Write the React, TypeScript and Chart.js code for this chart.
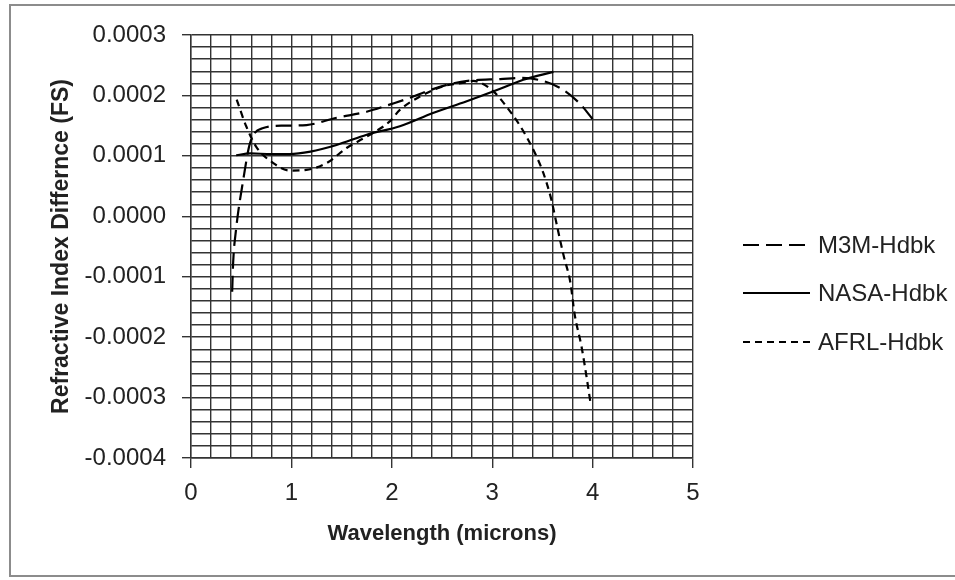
import React, { useEffect, useRef } from "react";
import { Chart, registerables } from "chart.js";

Chart.register(...registerables);

// ---- data ----
const m3mX = [0.41, 0.42, 0.448, 0.52, 0.588, 0.72, 0.92, 1.15, 1.45, 1.75, 2.0, 2.18, 2.35, 2.61, 2.81, 3.08, 3.28, 3.48, 3.68, 3.87, 4.0];
const m3mY = [-0.000125, -0.000076, -0.000023, 0.00006, 0.000121, 0.000146, 0.00015, 0.000151, 0.000163, 0.000173, 0.000186, 0.000196, 0.000207, 0.00022, 0.000225, 0.000227, 0.000229, 0.000225, 0.000212, 0.000187, 0.000161];

const nasaX = [0.45, 0.59, 0.8, 0.98, 1.19, 1.45, 1.75, 2.08, 2.41, 2.74, 3.08, 3.31, 3.61];
const nasaY = [0.000101, 0.000104, 0.000103, 0.000103, 0.000107, 0.000118, 0.000135, 0.000149, 0.000171, 0.00019, 0.000211, 0.000226, 0.000239];

const afrlX = [0.455, 0.55, 0.65, 0.82, 0.98, 1.15, 1.35, 1.55, 1.75, 1.98, 2.08, 2.28, 2.51, 2.75, 2.81, 3.01, 3.14, 3.28, 3.41, 3.51, 3.59, 3.64, 3.71, 3.78, 3.82, 3.89, 3.94, 3.98];
const afrlY = [0.000193, 0.000149, 0.000115, 0.000088, 0.0000757, 0.0000768, 0.000088, 0.000113, 0.000132, 0.000157, 0.000176, 0.000198, 0.000215, 0.000222, 0.000224, 0.000207, 0.000182, 0.000149, 0.00011, 0.0000713, 0.000027, -0.0000116, -0.0000642, -0.000111, -0.000161, -0.000216, -0.000266, -0.00031];

const seriesLabels = ["M3M-Hdbk", "NASA-Hdbk", "AFRL-Hdbk"];

// axis settings
const xMin = 0;
const xMax = 5;
const xMinorStep = 0.2;
const xMajorStep = 1;
const yMin = -0.0004;
const yMax = 0.0003;
const yMinorStep = 0.00002;
const yMajorStep = 0.0001;

const xTitle = "Wavelength (microns)";
const yTitle = "Refractive Index Differnce (FS)";

const GRID = "#333333";
const TEXT = "#222222";

function pts(xs: number[], ys: number[]) {
  return xs.map((x, i) => ({ x, y: ys[i] }));
}

function buildTicks(min: number, max: number, step: number) {
  const n = Math.round((max - min) / step);
  const out: { value: number }[] = [];
  for (let i = 0; i <= n; i++) {
    out.push({ value: parseFloat((min + i * step).toFixed(8)) });
  }
  return out;
}

function isMajor(v: number, major: number) {
  const r = v / major;
  return Math.abs(r - Math.round(r)) < 1e-6;
}

const legendPlugin = {
  id: "customLegend",
  afterDraw(chart: any) {
    const ctx = chart.ctx;
    const ys = [245, 293, 342];
    ctx.save();
    chart.data.datasets.forEach((ds: any, i: number) => {
      const y = ys[i];
      ctx.strokeStyle = "#000";
      ctx.lineWidth = 2.2;
      ctx.setLineDash(ds.borderDash || []);
      ctx.beginPath();
      ctx.moveTo(743, y);
      ctx.lineTo(810, y);
      ctx.stroke();
      ctx.setLineDash([]);
      ctx.fillStyle = TEXT;
      ctx.font = "24px 'Liberation Sans'";
      ctx.textBaseline = "middle";
      ctx.textAlign = "left";
      ctx.fillText(ds.label, 818, y + 1);
    });
    ctx.restore();
  },
};

export default function App() {
  const ref = useRef<HTMLCanvasElement | null>(null);

  useEffect(() => {
    if (!ref.current) return;
    const chart = new Chart(ref.current, {
      type: "line",
      data: {
        datasets: [
          {
            label: seriesLabels[0],
            data: pts(m3mX, m3mY),
            borderColor: "#000",
            borderWidth: 2.2,
            borderDash: [16, 7],
            pointRadius: 0,
            cubicInterpolationMode: "monotone",
            fill: false,
          },
          {
            label: seriesLabels[1],
            data: pts(nasaX, nasaY),
            borderColor: "#000",
            borderWidth: 2.2,
            pointRadius: 0,
            cubicInterpolationMode: "monotone",
            fill: false,
          },
          {
            label: seriesLabels[2],
            data: pts(afrlX, afrlY),
            borderColor: "#000",
            borderWidth: 2.2,
            borderDash: [7, 5],
            pointRadius: 0,
            cubicInterpolationMode: "monotone",
            fill: false,
          },
        ],
      },
      options: {
        responsive: false,
        animation: false,
        events: [],
        layout: { padding: { left: 0, top: 35, right: 262, bottom: 0 } },
        plugins: {
          legend: { display: false },
          tooltip: { enabled: false },
        },
        scales: {
          x: {
            type: "linear",
            min: xMin,
            max: xMax,
            afterBuildTicks: (scale: any) => {
              scale.ticks = buildTicks(xMin, xMax, xMinorStep);
            },
            afterFit: (scale: any) => {
              scale.height = 122;
            },
            grid: {
              color: GRID,
              lineWidth: 1.4,
              tickLength: 10,
              tickColor: (ctx: any) =>
                ctx.tick && isMajor(ctx.tick.value, xMajorStep) ? GRID : "rgba(0,0,0,0)",
            },
            border: { color: GRID, width: 1.4 },
            ticks: {
              autoSkip: false,
              maxRotation: 0,
              padding: 11,
              color: TEXT,
              font: { family: "'Liberation Sans'", size: 24 },
              callback: (v: any) => (isMajor(Number(v), xMajorStep) ? String(Math.round(Number(v))) : ""),
            },
            title: {
              display: true,
              text: xTitle,
              color: TEXT,
              font: { family: "'Liberation Sans'", size: 22, weight: "bold" },
              padding: { top: 0, bottom: 33 },
            },
          },
          y: {
            type: "linear",
            min: yMin,
            max: yMax,
            afterBuildTicks: (scale: any) => {
              scale.ticks = buildTicks(yMin, yMax, yMinorStep);
            },
            afterFit: (scale: any) => {
              scale.width = 191;
            },
            grid: {
              color: GRID,
              lineWidth: 1.4,
              tickLength: 9,
              tickColor: (ctx: any) =>
                ctx.tick && isMajor(ctx.tick.value, yMajorStep) ? GRID : "rgba(0,0,0,0)",
            },
            border: { color: GRID, width: 1.4 },
            ticks: {
              autoSkip: false,
              padding: 16,
              color: TEXT,
              font: { family: "'Liberation Sans'", size: 24 },
              callback: (v: any) => {
                const n = Number(v);
                if (!isMajor(n, yMajorStep)) return "";
                if (Math.abs(n) < 1e-12) return "0.0000";
                return n.toFixed(4);
              },
            },
            title: {
              display: true,
              text: yTitle,
              color: TEXT,
              font: { family: "'Liberation Sans'", size: 23, weight: "bold" },
              padding: { top: 48, bottom: 0 },
            },
          },
        },
      },
      plugins: [legendPlugin],
    } as any);
    return () => chart.destroy();
  }, []);

  return (
    <div style={{ position: "fixed", left: 0, top: 0, width: 955, height: 580, overflow: "hidden", background: "#fff" }}>
      <div
        style={{
          position: "absolute",
          left: 9,
          top: 4,
          width: 970,
          height: 573,
          border: "2px solid #8c8c8c",
          boxSizing: "border-box",
        }}
      />
      <canvas
        ref={ref}
        width={955}
        height={580}
        style={{ position: "absolute", left: 0, top: 0, width: 955, height: 580 }}
      />
    </div>
  );
}
